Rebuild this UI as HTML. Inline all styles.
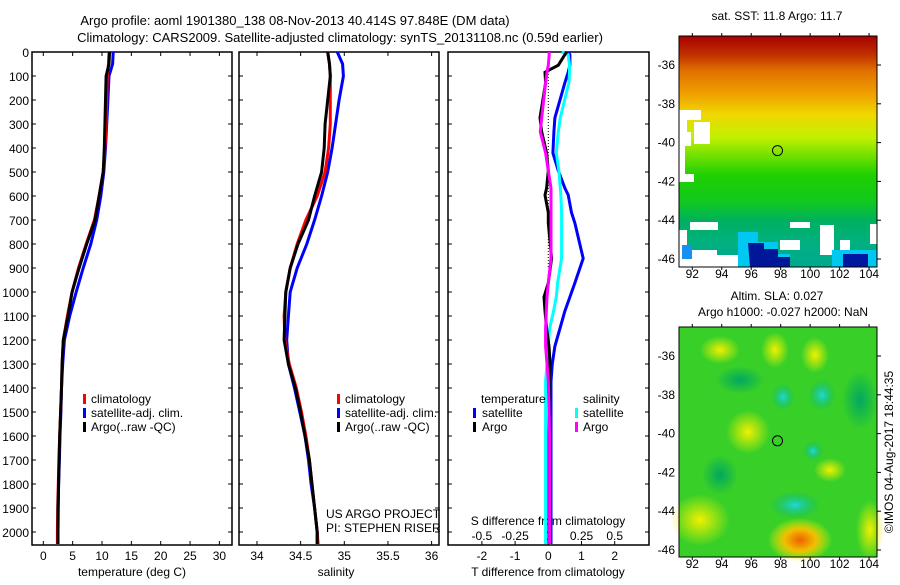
<!DOCTYPE html>
<html><head><meta charset="utf-8"><style>
body{margin:0;background:#fff;width:900px;height:580px;overflow:hidden}
svg text{font-family:"Liberation Sans",sans-serif;font-size:12px;fill:#000}
</style></head><body>
<svg id="c" width="900" height="580" xmlns="http://www.w3.org/2000/svg">
<defs>
<linearGradient id="sst" x1="0" y1="0" x2="0" y2="1">
<stop offset="0" stop-color="#a80000"/><stop offset="0.08" stop-color="#c03000"/><stop offset="0.15" stop-color="#e07000"/>
<stop offset="0.25" stop-color="#f0a000"/><stop offset="0.34" stop-color="#f0d800"/><stop offset="0.44" stop-color="#c0f000"/>
<stop offset="0.52" stop-color="#70e000"/><stop offset="0.6" stop-color="#20d000"/><stop offset="0.72" stop-color="#10c820"/><stop offset="0.8" stop-color="#00b060"/>
<stop offset="0.9" stop-color="#00b080"/><stop offset="1" stop-color="#00a890"/>
</linearGradient>
<radialGradient id="yb"><stop offset="0" stop-color="#f0f000"/><stop offset="1" stop-color="#f0f000" stop-opacity="0"/></radialGradient>
<radialGradient id="ob"><stop offset="0" stop-color="#f06000"/><stop offset="0.5" stop-color="#f0c000"/><stop offset="1" stop-color="#f0f000" stop-opacity="0"/></radialGradient>
<radialGradient id="cb"><stop offset="0" stop-color="#20d8e0"/><stop offset="1" stop-color="#00b070" stop-opacity="0"/></radialGradient>
<radialGradient id="db"><stop offset="0" stop-color="#00a860"/><stop offset="1" stop-color="#00a860" stop-opacity="0"/></radialGradient>
</defs>
<text x="295" y="25" text-anchor="middle" style="font-size:13px">Argo profile: aoml 1901380_138 08-Nov-2013 40.414S 97.848E (DM data)</text>
<text x="340" y="42" text-anchor="middle" style="font-size:13px">Climatology: CARS2009. Satellite-adjusted climatology: synTS_20131108.nc (0.59d earlier)</text>
<g id="p1"></g>
<g id="p2"></g>
<g id="p3"></g>
<g id="m1">
<text x="777" y="20" text-anchor="middle">sat. SST: 11.8 Argo: 11.7</text>
<rect x="679" y="36" width="198" height="231" fill="url(#sst)"/>
<g fill="#fff">
<rect x="679" y="110" width="22" height="10"/><rect x="679" y="120" width="8" height="12"/><rect x="694" y="122" width="16" height="22"/>
<rect x="679" y="132" width="12" height="14"/><rect x="679" y="146" width="6" height="28"/><rect x="679" y="174" width="15" height="8"/>
<rect x="679" y="230" width="8" height="37"/><rect x="687" y="250" width="30" height="17"/><rect x="690" y="222" width="28" height="8"/>
<rect x="700" y="255" width="40" height="12"/><rect x="780" y="240" width="20" height="10"/><rect x="790" y="222" width="20" height="6"/>
<rect x="820" y="225" width="14" height="30"/><rect x="840" y="240" width="10" height="10"/><rect x="870" y="224" width="7" height="20"/>
</g>
<rect x="682" y="245" width="10" height="14" fill="#1890f0"/>
<path d="M738 232 h20 v10 h20 v12 h12 v13 h-52 z" fill="#00c8f0"/>
<path d="M748 243 h16 v6 h14 v8 h12 v10 h-40 z" fill="#001898"/>
<path d="M832 250 h45 v17 h-45 z" fill="#00c8f0"/>
<path d="M843 254 h25 v13 h-25 z" fill="#0018a0"/>
<circle cx="777.5" cy="150.6" r="5" fill="none" stroke="#000"/>
</g>
<g id="m2">
<text x="777" y="300" text-anchor="middle">Altim. SLA: 0.027</text>
<text x="783" y="316" text-anchor="middle">Argo h1000: -0.027 h2000: NaN</text>
<rect x="679" y="327" width="198" height="230" fill="#38d028"/>
<g>
<ellipse cx="748" cy="432" rx="22" ry="22" fill="url(#yb)"/>
<ellipse cx="700" cy="520" rx="30" ry="26" fill="url(#yb)"/>
<ellipse cx="800" cy="540" rx="32" ry="22" fill="url(#ob)"/>
<ellipse cx="870" cy="530" rx="14" ry="30" fill="url(#yb)"/>
<ellipse cx="830" cy="470" rx="16" ry="12" fill="url(#yb)"/>
<ellipse cx="720" cy="350" rx="20" ry="14" fill="url(#yb)"/>
<ellipse cx="775" cy="350" rx="14" ry="18" fill="url(#yb)"/>
<ellipse cx="815" cy="355" rx="14" ry="18" fill="url(#yb)"/>
<ellipse cx="822" cy="395" rx="14" ry="16" fill="url(#cb)"/>
<ellipse cx="783" cy="397" rx="12" ry="14" fill="url(#cb)"/>
<ellipse cx="795" cy="505" rx="26" ry="14" fill="url(#cb)"/>
<ellipse cx="813" cy="451" rx="10" ry="10" fill="url(#cb)"/>
<ellipse cx="720" cy="475" rx="18" ry="20" fill="url(#db)"/>
<ellipse cx="860" cy="400" rx="18" ry="30" fill="url(#db)"/>
<ellipse cx="740" cy="380" rx="25" ry="14" fill="url(#db)"/>
</g>
<circle cx="777.5" cy="440.8" r="5" fill="none" stroke="#000"/>
</g>
<text transform="translate(893,452) rotate(-90)" text-anchor="middle">©IMOS 04-Aug-2017 18:44:35</text>
</svg>
<script>
// ---- data ----
const depth = [0,50,100,200,300,400,500,600,700,800,900,1000,1100,1200,1300,1400,1500,1600,1700,1800,1900,2000,2050];
const tempClim = [11.2,11.1,10.9,10.8,10.7,10.5,10.2,9.5,8.7,7.3,6.0,4.9,4.1,3.4,3.2,3.1,2.95,2.8,2.65,2.55,2.45,2.4,2.4];
const tempSat  = [11.9,11.8,11.2,11.0,10.8,10.6,10.3,9.8,9.1,8.1,6.8,5.6,4.5,3.6,3.3,3.1,3.0,2.85,2.75,2.6,2.55,2.5,2.5];
const tempArgo = [11.3,11.2,10.7,10.6,10.5,10.4,10.2,9.5,8.8,7.4,6.1,4.9,4.2,3.4,3.2,3.1,2.95,2.8,2.7,2.6,2.5,2.5,2.5];
const salClim = [34.81,34.83,34.84,34.84,34.84,34.82,34.78,34.69,34.56,34.46,34.38,34.33,34.31,34.32,34.37,34.45,34.51,34.56,34.60,34.63,34.66,34.69,34.70];
const salSat  = [34.92,34.98,34.99,34.94,34.90,34.86,34.81,34.74,34.66,34.57,34.46,34.38,34.36,34.34,34.36,34.43,34.49,34.55,34.59,34.62,34.66,34.69,34.69];
const salArgo = [34.81,34.83,34.84,34.81,34.78,34.77,34.74,34.66,34.59,34.47,34.38,34.33,34.32,34.31,34.36,34.44,34.50,34.55,34.60,34.63,34.66,34.69,34.69];
const diffDepth = [0,11,55,84,128,274,333,421,494,567,596,669,713,860,962,1021,1079,1153,1226,1299,1372,1600,2050];
const dTSat  = [0.6,0.65,0.65,0.6,0.5,0.2,0.17,0.14,0.3,0.5,0.6,0.7,0.8,1.05,0.8,0.65,0.5,0.35,0.2,0.12,0.08,0.08,0.08];
const dTArgo = [0.55,0.5,0.3,-0.1,-0.08,-0.25,-0.2,-0.05,0,-0.05,-0.1,0,0,0.1,0,-0.13,-0.1,-0.05,0.02,0.05,0.03,0.02,0.02];
const dSSat  = [0.1,0.15,0.16,0.16,0.155,0.09,0.075,0.06,0.08,0.09,0.095,0.10,0.10,0.10,0.07,0.06,0.04,0.01,0,-0.01,-0.02,-0.02,-0.02];
const dSArgo = [0.007,0.007,0,-0.01,-0.02,-0.05,-0.06,-0.02,0,0.02,0.02,0.02,0.02,0.02,0,-0.01,-0.015,-0.02,-0.02,-0.01,0,0.01,0.01];
const depthTicks = [0,100,200,300,400,500,600,700,800,900,1000,1100,1200,1300,1400,1500,1600,1700,1800,1900,2000];
const tempTicks = [0,5,10,15,20,25,30];
const salTicks = [34,34.5,35,35.5,36];
const salTickLabels = ["34","34.5","35","35.5","36"];
const dTTicks = [-2,-1,0,1,2];
const dSTicks = [-0.5,-0.25,0,0.25,0.5];
const dSTickLabels = ["-0.5","-0.25","0","0.25","0.5"];
const lonTicks = [92,94,96,98,100,102,104];
const latTicks = [-36,-38,-40,-42,-44,-46];

// ---- axis functions ----
const yD = d => 52 + d*0.24;
const xT = t => 43.3 + t*5.87;
const xS = s => 257 + (s-34)*87.3;
const xDT = t => 548.3 + t*33.2;
const xDS = s => 548.3 + s*132.8;
const xLon = l => 692.3 + (l-92)*14.73;
const yLat1 = l => 65 + (-36-l)*19.4;
const yLat2 = l => 356 + (-36-l)*19.4;

const NS="http://www.w3.org/2000/svg";
function mk(tag, parent, at){const e=document.createElementNS(NS,tag);for(const k in at)e.setAttribute(k,at[k]);parent.appendChild(e);return e;}
function txt(parent,x,y,s,anchor){const t=mk('text',parent,{x:x,y:y,'text-anchor':anchor||'middle'});t.textContent=s;return t;}
function line(parent, xs, ds, xf, col, name){
  const pts = xs.map((v,i)=>xf(v).toFixed(1)+','+yD(ds[i]).toFixed(1)).join(' ');
  const p = mk('polyline',parent,{points:pts,fill:'none',stroke:col,'stroke-width':3,'stroke-linejoin':'miter'});
  
  
}
function frame(parent,x0,x1,name){
  const r=mk('rect',parent,{x:x0,y:52,width:x1-x0,height:493,fill:'none',stroke:'#000','stroke-width':1.5});
  
  
  depthTicks.forEach(d=>{mk('line',parent,{x1:x0,x2:x0+4,y1:yD(d),y2:yD(d),stroke:'#000'});mk('line',parent,{x1:x1-4,x2:x1,y1:yD(d),y2:yD(d),stroke:'#000'});});
}
function legendMark(parent,x,y,col){mk('rect',parent,{x:x,y:y-9,width:3,height:10,fill:col});}

const p1=document.getElementById('p1'), p2=document.getElementById('p2'), p3=document.getElementById('p3');
// panel 1
frame(p1,32,232,'temperature-axes');
depthTicks.forEach(d=>{const t=txt(p1,29,yD(d)+5,String(d),'end');
  
  });
tempTicks.forEach(v=>{mk('line',p1,{x1:xT(v),x2:xT(v),y1:545,y2:541,stroke:'#000'});mk('line',p1,{x1:xT(v),x2:xT(v),y1:52,y2:56,stroke:'#000'});
  const t=txt(p1,xT(v),560,String(v));
  
  });
let t1=txt(p1,132,576,'temperature (deg C)');


line(p1,tempSat,depth,xT,'#0000ff','temp-satellite-line');
line(p1,tempClim,depth,xT,'#ff0000','temp-climatology-line');
line(p1,tempArgo,depth,xT,'#000','temp-argo-line');
// panel 2
frame(p2,239,439,'salinity-axes');
salTicks.forEach((v,i)=>{mk('line',p2,{x1:xS(v),x2:xS(v),y1:545,y2:541,stroke:'#000'});mk('line',p2,{x1:xS(v),x2:xS(v),y1:52,y2:56,stroke:'#000'});
  const t=txt(p2,xS(v),560,salTickLabels[i]);
  
  });
let t2=txt(p2,336,576,'salinity');


line(p2,salSat,depth,xS,'#0000ff','sal-satellite-line');
line(p2,salClim,depth,xS,'#ff0000','sal-climatology-line');
line(p2,salArgo,depth,xS,'#000','sal-argo-line');
let u1=txt(p2,326,518,'US ARGO PROJECT','start');


let u2=txt(p2,326,532,'PI: STEPHEN RISER','start');


// legends panels 1,2
[[p1,83],[p2,337]].forEach(([g,x])=>{
  const lg=mk('g',g,{});
  
  
  [['#ff0000','climatology',403],['#0000ff','satellite-adj. clim.',417],['#000','Argo(..raw -QC)',431]].forEach(([c,s,y])=>{
    legendMark(lg,x,y,c); const t=txt(lg,x+8,y,s,'start');
    
    });
});
// panel 3
frame(p3,448,649,'difference-axes');
dTTicks.forEach(v=>{mk('line',p3,{x1:xDT(v),x2:xDT(v),y1:545,y2:541,stroke:'#000'});
  const t=txt(p3,xDT(v),560,String(v));
  
  });
dSTicks.forEach((v,i)=>{const t=txt(p3,xDS(v),540,dSTickLabels[i]);
  
  });
let t3=txt(p3,548,576,'T difference from climatology');


let t4=txt(p3,548,525,'S difference from climatology');


mk('line',p3,{x1:548.3,x2:548.3,y1:56,y2:yD(900),stroke:'#000','stroke-dasharray':'1,2'});
line(p3,dTSat,diffDepth,xDT,'#0000ff','temp-diff-satellite-line');
line(p3,dSSat,diffDepth,xDS,'#00ffff','sal-diff-satellite-line');
line(p3,dTArgo,diffDepth,xDT,'#000','temp-diff-argo-line');
line(p3,dSArgo,diffDepth,xDS,'#ff00ff','sal-diff-argo-line');
const lg3=mk('g',p3,{});


txt(lg3,481,403,'temperature','start'); txt(lg3,583,403,'salinity','start');
legendMark(lg3,473,417,'#0000ff'); txt(lg3,482,417,'satellite','start');
legendMark(lg3,473,431,'#000'); txt(lg3,482,431,'Argo','start');
legendMark(lg3,575,417,'#00ffff'); txt(lg3,583,417,'satellite','start');
legendMark(lg3,575,431,'#ff00ff'); txt(lg3,583,431,'Argo','start');
// map axes
[[document.getElementById('m1'),36,267,yLat1,278],[document.getElementById('m2'),327,557,yLat2,568]].forEach(([g,y0,y1,yl,ly])=>{
  const r=mk('rect',g,{x:679,y:y0,width:198,height:y1-y0,fill:'none',stroke:'#000'});
  
  
  lonTicks.forEach(l=>{mk('line',g,{x1:xLon(l),x2:xLon(l),y1:y0-3,y2:y0,stroke:'#000'});mk('line',g,{x1:xLon(l),x2:xLon(l),y1:y1,y2:y1+3,stroke:'#000'});
    const t=txt(g,xLon(l),ly,String(l));
    
    });
  latTicks.forEach(l=>{mk('line',g,{x1:877,x2:881,y1:yl(l),y2:yl(l),stroke:'#000'});
    const t=txt(g,675,yl(l)+4,String(l),'end');
    
    });
});
</script>
</body></html>
